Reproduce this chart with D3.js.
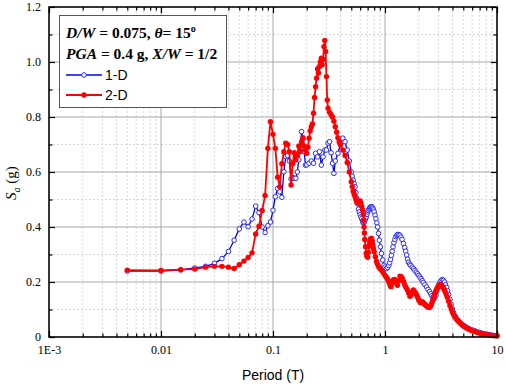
<!DOCTYPE html>
<html>
<head>
<meta charset="utf-8">
<script src="https://cdn.jsdelivr.net/npm/d3@7"></script>
<style>
  body { margin: 0; background: #fff; }
  svg { display: block; }
</style>
</head>
<body>
<div id="chart"></div>
<script>
// tick labels
const xTickVals = [1e-3, 0.01, 0.1, 1, 10];
const xTickLabels = ["1E-3", "0.01", "0.1", "1", "10"];
const yTickVals = [0, 0.2, 0.4, 0.6, 0.8, 1.0, 1.2];
const yTickLabels = ["0", "0.2", "0.4", "0.6", "0.8", "1.0", "1.2"];
const seriesNames = ["1-D", "2-D"];

// 1-D response (period, Sa)
const t1d = [0.005, 0.01, 0.015, 0.02, 0.025, 0.03, 0.035, 0.04, 0.045, 0.05, 0.055, 0.06, 0.065, 0.07, 0.075,
  0.08, 0.085, 0.09, 0.095, 0.1, 0.105, 0.11, 0.115, 0.12, 0.125, 0.13, 0.135, 0.14, 0.145, 0.15, 0.155, 0.16,
  0.165, 0.17, 0.175, 0.18, 0.185, 0.19, 0.195, 0.2, 0.21, 0.22, 0.23, 0.24, 0.25, 0.26, 0.27, 0.28, 0.29, 0.3,
  0.31, 0.32, 0.33, 0.34, 0.35, 0.36, 0.38, 0.4, 0.42, 0.44, 0.46, 0.48,
  0.5, 0.51, 0.52, 0.53, 0.54, 0.55, 0.56, 0.57, 0.58, 0.59, 0.6, 0.61, 0.62, 0.63, 0.64, 0.65, 0.66, 0.67, 0.68,
  0.69, 0.7, 0.71, 0.72, 0.73, 0.74, 0.75, 0.76, 0.77, 0.78, 0.79, 0.8, 0.815, 0.83, 0.845, 0.86, 0.875, 0.89,
  0.91, 0.93, 0.955, 0.98, 1.0, 1.03, 1.055, 1.08, 1.1, 1.12, 1.14, 1.16, 1.18, 1.2, 1.225, 1.25, 1.275, 1.3,
  1.33, 1.36, 1.39, 1.42, 1.46, 1.5, 1.53, 1.56, 1.59, 1.62, 1.66, 1.7, 1.75, 1.8, 1.85, 1.9, 1.95, 2.0, 2.05,
  2.1, 2.15, 2.2, 2.27, 2.35, 2.42, 2.5, 2.56, 2.62, 2.68, 2.75, 2.8, 2.85, 2.9, 2.95, 3.02, 3.1, 3.17, 3.25,
  3.32, 3.4, 3.47, 3.55, 3.62, 3.7, 3.8, 3.9, 4.0, 4.1, 4.25, 4.4, 4.6, 4.8, 5.05, 5.3, 5.6, 6.0, 6.4, 6.8, 7.2,
  7.7, 8.2, 8.7, 9.3, 10];
const sa1d = [0.240, 0.240, 0.244, 0.251, 0.257, 0.268, 0.285, 0.311, 0.352, 0.393, 0.418, 0.401, 0.429, 0.476, 0.452,
  0.400, 0.380, 0.405, 0.418, 0.461, 0.510, 0.540, 0.528, 0.508, 0.601, 0.656, 0.660, 0.640, 0.575, 0.580, 0.577, 0.577,
  0.600, 0.644, 0.680, 0.747, 0.720, 0.674, 0.625, 0.626, 0.632, 0.640, 0.632, 0.668, 0.655, 0.674, 0.625, 0.655, 0.680, 0.680,
  0.705, 0.710, 0.670, 0.632, 0.595, 0.640, 0.668, 0.700, 0.723, 0.710, 0.680, 0.640,
  0.600, 0.585, 0.570, 0.558, 0.546, 0.525, 0.505, 0.485, 0.465, 0.455, 0.445, 0.437, 0.430, 0.422, 0.415, 0.417, 0.422, 0.430, 0.437,
  0.446, 0.455, 0.460, 0.465, 0.469, 0.472, 0.474, 0.474, 0.472, 0.468, 0.462, 0.455, 0.443, 0.430, 0.415, 0.400, 0.377, 0.352,
  0.328, 0.304, 0.280, 0.261, 0.254, 0.249, 0.253, 0.260, 0.270, 0.282, 0.297, 0.312, 0.328, 0.343, 0.355, 0.365, 0.370, 0.373,
  0.372, 0.370, 0.363, 0.355, 0.340, 0.325, 0.312, 0.298, 0.283, 0.272, 0.265, 0.260, 0.254, 0.248, 0.242, 0.236, 0.230, 0.224, 0.218,
  0.212, 0.205, 0.198, 0.190, 0.182, 0.173, 0.165, 0.157, 0.150, 0.144, 0.140, 0.145, 0.152, 0.165, 0.178, 0.190, 0.200, 0.206, 0.209,
  0.206, 0.200, 0.190, 0.180, 0.168, 0.155, 0.137, 0.118, 0.102, 0.088, 0.075, 0.065, 0.056, 0.048, 0.042, 0.036, 0.031, 0.026, 0.022, 0.018, 0.015,
  0.012, 0.010, 0.008, 0.006, 0.005];

// 2-D response (period, Sa)
const t2d = [0.005, 0.01, 0.015, 0.02, 0.025, 0.03, 0.035, 0.04, 0.045, 0.05, 0.055, 0.06, 0.065, 0.07, 0.075,
  0.08, 0.085, 0.09, 0.095, 0.1, 0.105, 0.11, 0.115, 0.12, 0.125, 0.13, 0.135, 0.14, 0.145, 0.15, 0.155, 0.16,
  0.165, 0.17, 0.175, 0.18, 0.185, 0.19, 0.195, 0.2, 0.205, 0.21, 0.215, 0.22, 0.225, 0.23, 0.235, 0.24, 0.245,
  0.25, 0.255, 0.26, 0.265, 0.27, 0.275, 0.28, 0.285, 0.29, 0.295, 0.3, 0.305, 0.31, 0.32, 0.33, 0.34, 0.35, 0.36,
  0.37, 0.38, 0.39, 0.4, 0.42, 0.44, 0.46, 0.48,
  0.5, 0.51, 0.52, 0.53, 0.54, 0.55, 0.56, 0.57, 0.58, 0.59, 0.6, 0.61, 0.62, 0.63, 0.64, 0.645, 0.65, 0.655, 0.66,
  0.67, 0.68, 0.69, 0.7, 0.71, 0.72, 0.73, 0.74, 0.75, 0.76, 0.77, 0.78, 0.79, 0.8, 0.82, 0.84, 0.86, 0.88, 0.905,
  0.93, 0.965, 1.0, 1.025, 1.05, 1.075, 1.1, 1.115, 1.13, 1.15, 1.17, 1.195, 1.22, 1.255, 1.29, 1.325, 1.36, 1.395,
  1.43, 1.465, 1.5, 1.54, 1.58, 1.625, 1.67, 1.695, 1.72, 1.755, 1.79, 1.825, 1.86, 1.895, 1.93, 1.965, 2.0, 2.04,
  2.08, 2.115, 2.15, 2.185, 2.22, 2.26, 2.3, 2.35, 2.4, 2.45, 2.5, 2.55, 2.6, 2.65, 2.7, 2.75, 2.8, 2.85, 2.9, 2.95,
  3.0, 3.05, 3.1, 3.15, 3.2, 3.25, 3.3, 3.375, 3.45, 3.525, 3.6, 3.7, 3.8, 3.9, 4.0, 4.1, 4.2, 4.35, 4.5, 4.65,
  4.8, 4.95, 5.1, 5.3, 5.5, 5.75, 6.0, 6.3, 6.6, 6.9, 7.2, 7.6, 8.0, 8.5, 9.0, 9.5, 10];
const sa2d = [0.243, 0.242, 0.245, 0.247, 0.254, 0.257, 0.257, 0.254, 0.249, 0.263, 0.276, 0.289, 0.306, 0.375, 0.403,
  0.460, 0.515, 0.686, 0.783, 0.737, 0.686, 0.581, 0.546, 0.630, 0.674, 0.705, 0.700, 0.674, 0.553, 0.630, 0.670, 0.645,
  0.660, 0.695, 0.675, 0.710, 0.725, 0.695, 0.680, 0.668, 0.690, 0.723, 0.750, 0.765, 0.775, 0.814, 0.871, 0.910, 0.941,
  0.975, 0.960, 0.984, 1.000, 1.014, 0.990, 1.010, 1.056, 1.078, 1.038, 0.947, 0.862, 0.832, 0.817, 0.808, 0.800, 0.785, 0.765,
  0.745, 0.725, 0.710, 0.700, 0.680, 0.660, 0.635, 0.600,
  0.565, 0.547, 0.530, 0.520, 0.510, 0.500, 0.490, 0.488, 0.490, 0.494, 0.495, 0.487, 0.475, 0.462, 0.445, 0.425, 0.400, 0.378, 0.355,
  0.328, 0.305, 0.294, 0.290, 0.308, 0.330, 0.345, 0.355, 0.358, 0.358, 0.348, 0.335, 0.322, 0.310, 0.292, 0.275, 0.264, 0.255, 0.249,
  0.243, 0.234, 0.225, 0.218, 0.212, 0.203, 0.195, 0.188, 0.183, 0.195, 0.205, 0.208, 0.209, 0.198, 0.188, 0.205, 0.221, 0.219,
  0.213, 0.202, 0.190, 0.181, 0.172, 0.160, 0.148, 0.152, 0.158, 0.165, 0.171, 0.167, 0.162, 0.156, 0.150, 0.143, 0.135, 0.130,
  0.125, 0.127, 0.128, 0.125, 0.122, 0.119, 0.116, 0.113, 0.110, 0.108, 0.107, 0.112, 0.120, 0.130, 0.140, 0.150, 0.160, 0.168, 0.175, 0.180,
  0.185, 0.188, 0.190, 0.190, 0.188, 0.184, 0.180, 0.173, 0.165, 0.155, 0.145, 0.130, 0.115, 0.102, 0.090, 0.081, 0.073, 0.065, 0.058, 0.052,
  0.047, 0.042, 0.038, 0.034, 0.030, 0.026, 0.023, 0.020, 0.017, 0.015, 0.013, 0.011, 0.009, 0.0075, 0.006, 0.005, 0.004];

const width = 505, height = 385;
const pad = { l: 49, r: 8, t: 7, b: 48 };
const serif = "'Liberation Serif', 'Times New Roman', serif";
const sans = "'Liberation Sans', Arial, sans-serif";

const svg = d3.select("#chart").append("svg").attr("width", width).attr("height", height);

const x = d3.scaleLog().domain([1e-3, 10]).range([pad.l, width - pad.r]);
const y = d3.scaleLinear().domain([0, 1.2]).range([height - pad.b, pad.t]);

const xMinor = [];
for (let d = 1e-3; d < 10; d *= 10) for (let k = 2; k <= 9; k++) xMinor.push(d * k);
const yMinor = [0.1, 0.3, 0.5, 0.7, 0.9, 1.1];

// grid
const grid = svg.append("g");
grid.selectAll(".gx-min").data(xMinor).enter().append("line")
  .attr("x1", (d) => x(d)).attr("x2", (d) => x(d)).attr("y1", y(0)).attr("y2", y(1.2))
  .attr("stroke", "#d8d8d8").attr("stroke-dasharray", "2,2");
grid.selectAll(".gy-min").data(yMinor).enter().append("line")
  .attr("x1", x(1e-3)).attr("x2", x(10)).attr("y1", (d) => y(d)).attr("y2", (d) => y(d))
  .attr("stroke", "#d8d8d8").attr("stroke-dasharray", "2,2");
grid.selectAll(".gx").data(xTickVals).enter().append("line")
  .attr("x1", (d) => x(d)).attr("x2", (d) => x(d)).attr("y1", y(0)).attr("y2", y(1.2))
  .attr("stroke", "#a8a8a8");
grid.selectAll(".gy").data(yTickVals).enter().append("line")
  .attr("x1", x(1e-3)).attr("x2", x(10)).attr("y1", (d) => y(d)).attr("y2", (d) => y(d))
  .attr("stroke", "#a8a8a8");

// axes, ticks pointing inward
function styleAxis(g) {
  g.select(".domain").remove();
  g.selectAll(".tick line").attr("stroke", "#000").attr("stroke-width", 1.2);
  g.selectAll("text").attr("font-family", serif).attr("font-size", 12).attr("fill", "#000");
}
svg.append("g").attr("transform", `translate(0,${y(0)})`)
  .call(d3.axisBottom(x).tickValues(xTickVals).tickSize(-6).tickPadding(8).tickFormat((d, i) => xTickLabels[i]))
  .call(styleAxis);
svg.append("g").attr("transform", `translate(0,${y(0)})`)
  .call(d3.axisBottom(x).tickValues(xMinor).tickSize(-3.5).tickFormat(""))
  .call(styleAxis);
svg.append("g").attr("transform", `translate(0,${y(1.2)})`)
  .call(d3.axisTop(x).tickValues(xTickVals).tickSize(-6).tickFormat(""))
  .call(styleAxis);
svg.append("g").attr("transform", `translate(0,${y(1.2)})`)
  .call(d3.axisTop(x).tickValues(xMinor).tickSize(-3.5).tickFormat(""))
  .call(styleAxis);
svg.append("g").attr("transform", `translate(${x(1e-3)},0)`)
  .call(d3.axisLeft(y).tickValues(yTickVals).tickSize(-6).tickPadding(8).tickFormat((d, i) => yTickLabels[i]))
  .call(styleAxis);
svg.append("g").attr("transform", `translate(${x(1e-3)},0)`)
  .call(d3.axisLeft(y).tickValues(yMinor).tickSize(-3.5).tickFormat(""))
  .call(styleAxis);
svg.append("g").attr("transform", `translate(${x(10)},0)`)
  .call(d3.axisRight(y).tickValues(yTickVals).tickSize(-6).tickFormat(""))
  .call(styleAxis);
svg.append("g").attr("transform", `translate(${x(10)},0)`)
  .call(d3.axisRight(y).tickValues(yMinor).tickSize(-3.5).tickFormat(""))
  .call(styleAxis);

// series
const line = d3.line().x((d) => x(d[0])).y((d) => y(d[1]));
const data1 = t1d.map((t, i) => [t, sa1d[i]]);
const data2 = t2d.map((t, i) => [t, sa2d[i]]);

svg.append("path").datum(data1).attr("d", line).attr("fill", "none").attr("stroke", "#0000ff").attr("stroke-width", 1.3);
svg.append("g").selectAll("circle").data(data1).enter().append("circle")
  .attr("cx", (d) => x(d[0])).attr("cy", (d) => y(d[1])).attr("r", 2.3)
  .attr("fill", "#fff").attr("stroke", "#2a2aff").attr("stroke-width", 1);

svg.append("path").datum(data2).attr("d", line).attr("fill", "none").attr("stroke", "#ff0000").attr("stroke-width", 1.8);
svg.append("g").selectAll("circle").data(data2).enter().append("circle")
  .attr("cx", (d) => x(d[0])).attr("cy", (d) => y(d[1])).attr("r", 2.7)
  .attr("fill", "#ff0000");

// frame
svg.append("rect").attr("x", x(1e-3)).attr("y", y(1.2)).attr("width", x(10) - x(1e-3)).attr("height", y(0) - y(1.2))
  .attr("fill", "none").attr("stroke", "#000").attr("stroke-width", 1.5);

// legend
const lg = svg.append("g");
lg.append("rect").attr("x", 59.5).attr("y", 15.5).attr("width", 167).attr("height", 92)
  .attr("fill", "#fff").attr("stroke", "#555").attr("stroke-width", 1);
const t1 = lg.append("text").attr("x", 66).attr("y", 38).attr("font-family", serif).attr("font-size", 15.5).attr("font-weight", "bold");
t1.append("tspan").attr("font-style", "italic").text("D/W");
t1.append("tspan").text(" = 0.075, ");
t1.append("tspan").attr("font-style", "italic").text("θ");
t1.append("tspan").text("= 15");
t1.append("tspan").attr("font-size", 10).attr("dy", -6).text("o");
const t2 = lg.append("text").attr("x", 66).attr("y", 59).attr("font-family", serif).attr("font-size", 15.5).attr("font-weight", "bold");
t2.append("tspan").attr("font-style", "italic").text("PGA");
t2.append("tspan").text(" = 0.4 g, ");
t2.append("tspan").attr("font-style", "italic").text("X/W");
t2.append("tspan").text(" = 1/2");

const lgColors = ["#0000ff", "#ff0000"];
seriesNames.forEach((name, i) => {
  const ly = 75 + i * 20;
  lg.append("line").attr("x1", 66).attr("x2", 102).attr("y1", ly).attr("y2", ly)
    .attr("stroke", lgColors[i]).attr("stroke-width", i ? 1.8 : 1.3);
  if (i === 0) {
    lg.append("circle").attr("cx", 84).attr("cy", ly).attr("r", 2.3).attr("fill", "#fff").attr("stroke", "#2a2aff").attr("stroke-width", 1);
  } else {
    lg.append("circle").attr("cx", 84).attr("cy", ly).attr("r", 2.7).attr("fill", "#ff0000");
  }
  lg.append("text").attr("x", 105).attr("y", ly + 5).attr("font-family", sans).attr("font-size", 14).text(name);
});

// axis titles
svg.append("text").attr("x", (x(1e-3) + x(10)) / 2).attr("y", 380).attr("text-anchor", "middle")
  .attr("font-family", sans).attr("font-size", 14).text("Period (T)");
const yt = svg.append("text").attr("transform", `translate(16,183) rotate(-90)`).attr("text-anchor", "middle")
  .attr("font-family", serif).attr("font-size", 15);
yt.append("tspan").attr("font-style", "italic").text("S");
yt.append("tspan").attr("font-style", "italic").attr("font-size", 10).attr("dy", 4).text("a");
yt.append("tspan").attr("dy", -4).text(" (g)");
</script>
</body>
</html>
